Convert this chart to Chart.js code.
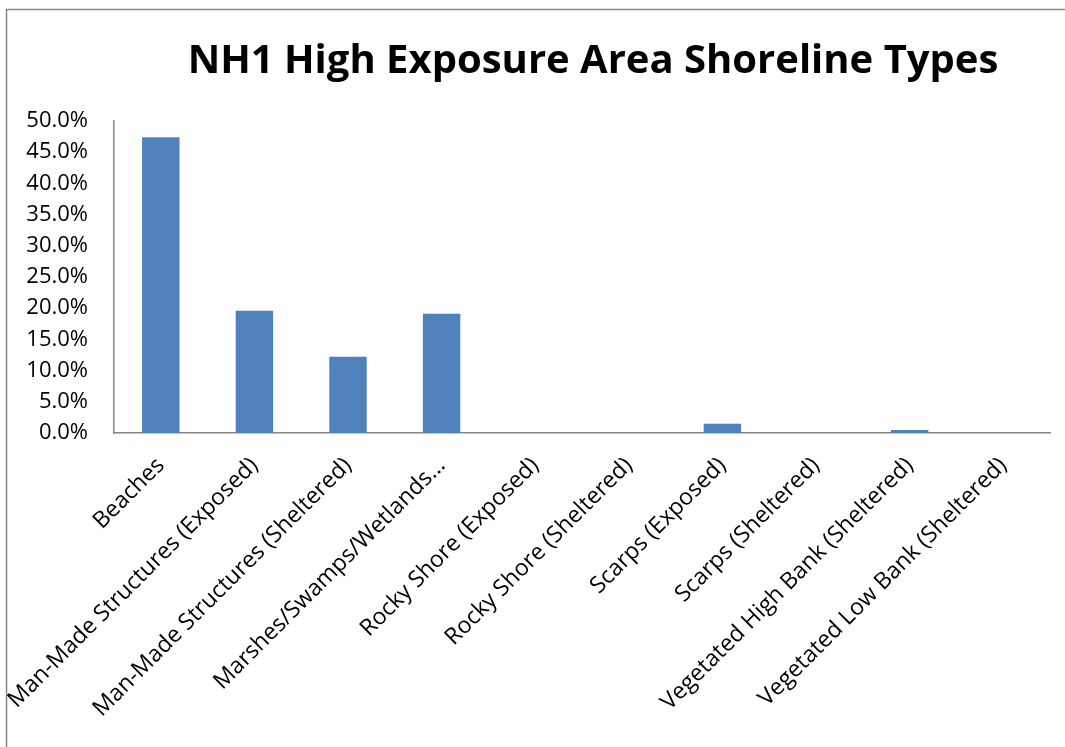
<!DOCTYPE html>
<html>
<head>
<meta charset="utf-8">
<script src="https://cdn.jsdelivr.net/npm/chart.js@4"></script>
<style>
  html, body { margin: 0; padding: 0; background: #fff; }
  #wrap { position: relative; width: 1065px; height: 747px; }
  canvas { display: block; }
</style>
</head>
<body>
<div id="wrap"><canvas id="c" width="1065" height="747"></canvas></div>
<script>
const titleText = "NH1 High Exposure Area Shoreline Types";
const categories = [
  "Beaches",
  "Man-Made Structures (Exposed)",
  "Man-Made Structures (Sheltered)",
  "Marshes/Swamps/Wetlands...",
  "Rocky Shore (Exposed)",
  "Rocky Shore (Sheltered)",
  "Scarps (Exposed)",
  "Scarps (Sheltered)",
  "Vegetated High Bank (Sheltered)",
  "Vegetated Low Bank (Sheltered)"
];
const shareValues = [0.474, 0.196, 0.122, 0.191, 0, 0, 0.015, 0, 0.005, 0];
const yTickMin = 0, yTickMax = 0.5, yTickStep = 0.05;

const FONT = "'Open Sans', Lato, sans-serif";

const framePlugin = {
  id: 'frame',
  beforeDraw(chart) {
    const ctx = chart.ctx;
    ctx.save();
    ctx.fillStyle = '#fff';
    ctx.fillRect(0, 0, chart.width, chart.height);
    ctx.strokeStyle = '#878787';
    ctx.lineWidth = 1.5;
    ctx.beginPath();
    ctx.moveTo(6.5, chart.height + 5);
    ctx.lineTo(6.5, 9.5);
    ctx.lineTo(chart.width + 5, 9.5);
    ctx.stroke();
    ctx.restore();
  },
  afterDraw(chart) {
    const ctx = chart.ctx;
    ctx.save();
    ctx.fillStyle = '#000';
    ctx.font = "bold 40px " + FONT;
    ctx.textAlign = 'center';
    ctx.textBaseline = 'middle';
    ctx.fillText(titleText, 593, 62);
    ctx.restore();
  }
};

new Chart(document.getElementById('c'), {
  type: 'bar',
  data: {
    labels: categories,
    datasets: [{
      data: shareValues,
      backgroundColor: '#4F81BD',
      borderWidth: 0,
      categoryPercentage: 1.0,
      barPercentage: 0.4
    }]
  },
  plugins: [framePlugin],
  options: {
    responsive: false,
    animation: false,
    layout: { padding: { top: 121, right: 15, left: 0, bottom: 0 } },
    plugins: { legend: { display: false }, title: { display: false }, tooltip: { enabled: false } },
    scales: {
      x: {
        grid: { display: false, drawTicks: false },
        border: { display: true, color: '#868686', width: 1.5 },
        ticks: {
          color: '#000',
          font: { family: FONT, size: 23 },
          minRotation: 45, maxRotation: 45,
          autoSkip: false,
          padding: 19
        },
        afterFit(scale) { scale.height = 747 - 433; }
      },
      y: {
        min: yTickMin, max: yTickMax,
        grid: { display: false, drawTicks: false },
        border: { display: true, color: '#868686', width: 1.5 },
        ticks: {
          stepSize: yTickStep,
          color: '#000',
          font: { family: FONT, size: 22 },
          padding: 26,
          callback: v => (v * 100).toFixed(1) + '%'
        },
        afterFit(scale) { scale.width = 114; }
      }
    }
  }
});
</script>
</body>
</html>
